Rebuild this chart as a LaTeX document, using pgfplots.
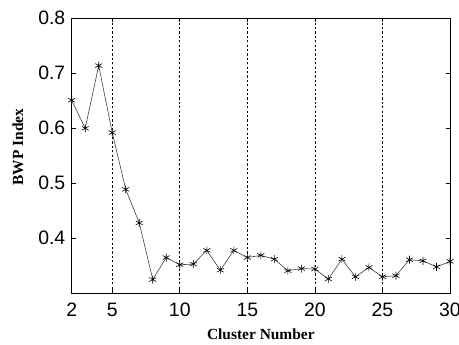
\documentclass[border=0pt]{standalone}
\usepackage{fontspec}
\setmainfont{Liberation Serif}
\newfontfamily\arial{Liberation Sans}
\usepackage{pgfplots}
\pgfplotsset{compat=1.18}
\begin{document}
\begin{tikzpicture}
\begin{axis}[
  scale only axis,
  width=378.3bp, height=275bp,
  xmin=2, xmax=30, ymin=0.3, ymax=0.8,
  xtick={2,5,10,15,20,25,30},
  ytick={0.4,0.5,0.6,0.7,0.8},
  tick align=inside,
  major tick length=4bp,
  axis line style={black, line width=0.7bp},
  tick style={black, line width=0.6bp},
  xmajorgrids,
  grid style={black, line width=0.6bp, dash pattern=on 2.2bp off 2.2bp},
  /pgf/number format/assume math mode=true,
  ticklabel style={font=\arial\fontsize{19.5}{19.5}\selectfont, inner sep=0pt},
  xticklabel style={anchor=center, yshift=-16.7bp},
  yticklabel style={anchor=east, xshift=-6.2bp, /pgf/number format/fixed, /pgf/number format/precision=1, /pgf/number format/fixed zerofill},
  xlabel={Cluster Number},
  ylabel={BWP Index},
  label style={font=\bfseries\fontsize{15.5}{15.5}\selectfont},
  xlabel style={at={(axis description cs:0.5,0)}, anchor=center, yshift=-40.7bp},
  ylabel style={at={(axis description cs:0,0.5)}, anchor=center, yshift=53.7bp, xshift=8.8bp},
]
\addplot[black!75, line width=0.6bp, mark=asterisk, mark size=4bp, mark options={black, line width=0.6bp}] coordinates {
(2,0.651) (3,0.600) (4,0.714) (5,0.592) (6,0.489) (7,0.428) (8,0.325) (9,0.365)
(10,0.352) (11,0.353) (12,0.378) (13,0.342) (14,0.378) (15,0.365) (16,0.369)
(17,0.362) (18,0.341) (19,0.345) (20,0.344) (21,0.326) (22,0.362) (23,0.330)
(24,0.347) (25,0.330) (26,0.332) (27,0.361) (28,0.359) (29,0.348) (30,0.358)
};
\coordinate (bl) at (rel axis cs:0,0);
\coordinate (tr) at (rel axis cs:1,1);
\end{axis}
\pgfresetboundingbox
\path ([xshift=-71.7bp,yshift=-51.7bp]bl) rectangle ([xshift=9bp,yshift=18.3bp]tr);
\end{tikzpicture}
\end{document}
